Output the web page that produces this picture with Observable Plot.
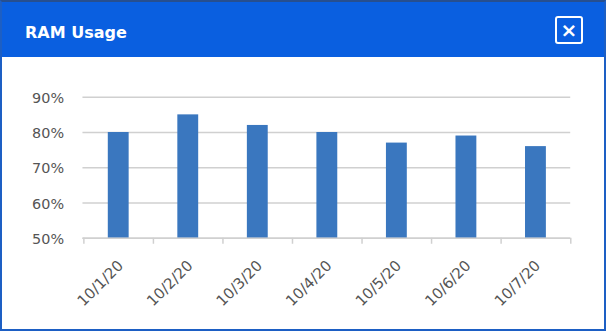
<!DOCTYPE html>
<html><head><meta charset="utf-8">
<script src="https://cdn.jsdelivr.net/npm/d3@7"></script>
<script src="https://cdn.jsdelivr.net/npm/@observablehq/plot@0.6"></script>
<style>
body{margin:0;background:#fff;font-family:"DejaVu Sans",sans-serif;}
#frame{position:absolute;left:0;top:0;width:602px;height:327px;border:2px solid #1d5fc4;border-top-color:#274f8f;background:#fff;overflow:hidden}
#header{position:absolute;left:0;top:0;width:602px;height:55px;background:#0a5fe0;}
#title{position:absolute;left:23px;top:21px;line-height:20px;color:#fff;font-weight:bold;font-size:16px;white-space:nowrap}
#close{position:absolute;left:553px;top:14px;width:28px;height:28px;box-sizing:border-box;border:2px solid #fff;border-radius:3px;color:#fff;font-weight:bold;font-size:20px;display:flex;align-items:center;justify-content:center;line-height:1}
#chart{position:absolute;left:-2px;top:55px}
</style></head>
<body>
<div id="frame">
  <div id="header"><div id="title">RAM Usage</div><div id="close">×</div></div>
  <div id="chart"></div>
</div>
<script>
const dates = ["10/1/20","10/2/20","10/3/20","10/4/20","10/5/20","10/6/20","10/7/20"];
const ramUsage = [80,85,82,80,77,79,76];
const yTicks = [50,60,70,80,90];

const data = dates.map((d,i)=>({date:d, value:ramUsage[i]}));
const W=608,H=272, ML=83, MR=34, MT=40, MB=90;
const step=(W-ML-MR)/dates.length;
const gridColor = "#d0d0d0";
const chart = Plot.plot({
  width:W, height:H, marginLeft:ML, marginRight:MR, marginTop:MT, marginBottom:MB,
  style:{fontFamily:"DejaVu Sans, sans-serif", fontSize:"14px", color:"#555555", background:"transparent"},
  x:{type:"band", domain:dates, padding:0},
  y:{domain:[50,90]},
  marks:[
    Plot.gridY(yTicks,{stroke:gridColor, strokeOpacity:1, strokeWidth:1.5}),
    Plot.axisY(yTicks,{tickSize:0, tickPadding:19, tickFormat:d=>d+"%", fontSize:14.5, label:null, dy:1}),
    Plot.barY(data,{x:"date", y1:50, y2:"value", fill:"#3a77bf", insetLeft:24.5, insetRight:24.5}),
    Plot.ruleY([50],{stroke:gridColor, strokeWidth:1.5}),
    Plot.ruleX(dates,{x:d=>d, y1:50, y2:50, insetBottom:-6, dx:-step/2, stroke:gridColor, strokeWidth:1.5}),
    Plot.ruleX([dates[dates.length-1]],{x:d=>d, y1:50, y2:50, insetBottom:-6, dx:step/2, stroke:gridColor, strokeWidth:1.5}),
    Plot.axisX({tickSize:0, tickRotate:-45, tickPadding:25, label:null, fontSize:15, dx:2})
  ]
});
document.getElementById("chart").appendChild(chart);
</script>
</body></html>
